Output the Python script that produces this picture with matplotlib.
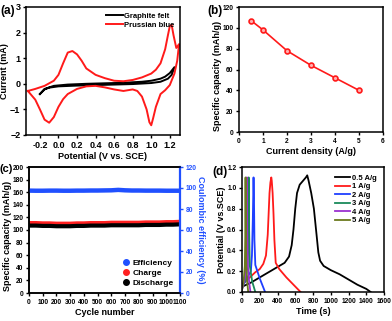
import matplotlib.pyplot as plt
from matplotlib.lines import Line2D

plt.rcParams['font.family'] = ['Liberation Sans', 'DejaVu Sans']
plt.rcParams['font.weight'] = 'bold'
plt.rcParams['axes.labelweight'] = 'bold'
plt.rcParams['axes.linewidth'] = 1.1
plt.rcParams['xtick.major.width'] = 1.0
plt.rcParams['ytick.major.width'] = 1.0
plt.rcParams['xtick.major.size'] = 2.5
plt.rcParams['ytick.major.size'] = 2.5

# (a) cyclic voltammetry, forward sweep then reverse sweep
pb_v = [-0.33, -0.25, -0.15, -0.05, 0.0, 0.05, 0.1, 0.15, 0.2, 0.25, 0.3, 0.4, 0.5, 0.6,
        0.7, 0.8, 0.9, 1.0, 1.05, 1.1, 1.15, 1.18, 1.2, 1.22, 1.24, 1.27, 1.3,
        1.28, 1.25, 1.2, 1.15, 1.1, 1.05, 1.02, 1.0, 0.98, 0.95, 0.9, 0.85, 0.8, 0.7,
        0.6, 0.5, 0.4, 0.3, 0.2, 0.1, 0.05, 0.0, -0.05, -0.1, -0.15, -0.2, -0.25, -0.33]
pb_i = [-0.28, -0.2, -0.08, 0.12, 0.35, 0.8, 1.22, 1.28, 1.15, 0.9, 0.6, 0.35, 0.22, 0.12,
        0.1, 0.15, 0.25, 0.4, 0.55, 0.8, 1.35, 1.9, 2.25, 2.3, 1.9, 1.4, 1.55,
        0.9, 0.4, -0.05, -0.25, -0.4, -0.9, -1.35, -1.62, -1.5, -1.0, -0.5, -0.28, -0.22, -0.28,
        -0.22, -0.14, -0.08, -0.1, -0.2, -0.4, -0.6, -0.9, -1.3, -1.52, -1.4, -1.0, -0.62, -0.28]
gf_v = [-0.2, -0.15, -0.05, 0.1, 0.3, 0.5, 0.7, 0.9, 1.0, 1.1, 1.15, 1.2, 1.25,
        1.22, 1.18, 1.1, 1.0, 0.8, 0.6, 0.4, 0.2, 0.0, -0.1, -0.15, -0.2]
gf_i = [-0.4, -0.2, -0.08, -0.03, 0.0, 0.02, 0.04, 0.08, 0.12, 0.2, 0.28, 0.42, 0.65,
        0.35, 0.2, 0.08, 0.03, -0.01, -0.03, -0.05, -0.07, -0.1, -0.15, -0.22, -0.4]

# (b) rate capability
density = [0.5, 1, 2, 3, 4, 5]
capacity = [107, 98, 78, 64, 52, 40]

# (c) cycling
cycles = [1, 50, 100, 150, 200, 250, 300, 350, 400, 450, 500, 550, 600, 650, 700,
          750, 800, 850, 900, 950, 1000, 1050, 1100]
charge = [111, 111, 110.5, 110.5, 110, 110, 110, 110.5, 110.5, 111, 111, 111, 111.5, 111.5, 111.5,
          111.5, 111.5, 112, 112, 112, 112.5, 112.5, 113]
discharge = [107, 107, 106.5, 106.5, 106, 106, 106, 106.5, 106.5, 107, 107, 107, 107.5, 107.5, 107.5,
             107.5, 107.5, 108, 108, 108, 108.5, 108.5, 109]
efficiency = [97.5, 97.4, 97.4, 97.5, 97.5, 97.4, 97.4, 97.5, 97.5, 97.6, 97.6, 97.7, 97.8, 98.2, 97.8,
              97.6, 97.6, 97.5, 97.5, 97.5, 97.4, 97.4, 97.4]

# (d) galvanostatic charge/discharge
gcd = {
    '0.5 A/g': ([0, 100, 200, 300, 400, 480, 530, 560, 580, 600, 620, 650, 690, 720, 735,
                 750, 780, 810, 840, 860, 880, 920, 1000, 1100, 1200, 1300, 1400, 1450],
                [0.05, 0.09, 0.14, 0.19, 0.24, 0.28, 0.34, 0.45, 0.6, 0.8, 0.95, 1.03, 1.07, 1.1, 1.12,
                 1.07, 0.95, 0.8, 0.55, 0.38, 0.3, 0.25, 0.21, 0.17, 0.12, 0.07, 0.03, 0.0]),
    '1 A/g': ([0, 50, 100, 150, 200, 240, 270, 290, 300, 310, 320, 330,
               335, 345, 355, 365, 380, 420, 500, 580, 660],
              [0.07, 0.11, 0.15, 0.19, 0.22, 0.27, 0.35, 0.55, 0.75, 0.95, 1.05, 1.1,
               1.07, 0.95, 0.75, 0.5, 0.28, 0.22, 0.14, 0.07, 0.0]),
    '2 A/g': ([0, 50, 100, 112, 122, 130, 135, 140, 150, 200, 260],
              [0.05, 0.12, 0.2, 0.35, 0.7, 1.1, 0.9, 0.5, 0.26, 0.13, 0.0]),
    '3 A/g': ([0, 40, 62, 70, 75, 80, 88, 115, 150],
              [0.03, 0.12, 0.25, 0.6, 1.1, 0.6, 0.25, 0.1, 0.0]),
    '4 A/g': ([0, 30, 45, 52, 55, 59, 66, 80, 95],
              [0.02, 0.12, 0.25, 0.6, 1.1, 0.6, 0.25, 0.1, 0.0]),
    '5 A/g': ([0, 20, 32, 38, 40, 43, 48, 58, 70],
              [0.02, 0.12, 0.25, 0.6, 1.1, 0.6, 0.25, 0.1, 0.0]),
}
gcd_colors = ['black', '#ff1a1a', '#1f3fff', '#1a8a5a', '#9a30d0', '#6b7a1e']

W, H = 392, 321
fig = plt.figure(figsize=(W / 100, H / 100), dpi=100)


def box(l, t, r, b):
    return fig.add_axes([l / W, 1 - b / H, (r - l) / W, (b - t) / H])


# ---- (a)
ax = box(26, 7, 180, 135)
ax.plot(gf_v, gf_i, color='black', lw=1.4, label='Graphite felt')
ax.plot(pb_v, pb_i, color='#ff1a1a', lw=1.4, label='Prussian blue')
ax.set_xlim(-0.35, 1.31)
ax.set_ylim(-2, 3)
ax.set_xticks([-0.2, 0.0, 0.2, 0.4, 0.6, 0.8, 1.0, 1.2])
ax.set_xticklabels(['-0.2', '0.0', '0.2', '0.4', '0.6', '0.8', '1.0', '1.2'])
ax.set_yticks([-2, -1, 0, 1, 2, 3])
ax.tick_params(labelsize=6.5, pad=1.5)
ax.set_xlabel('Potential (V vs. SCE)', fontsize=6.5, labelpad=2)
ax.set_ylabel('Current (mA)', fontsize=6.5, labelpad=1)
ax.legend(loc='upper right', frameon=False, fontsize=5.5, handlelength=2.2,
          borderaxespad=0.3, labelspacing=0.2, handletextpad=0.2)
fig.text(0 / W, 1 - 11 / H, '(a)', fontsize=8.5, fontweight='bold', va='center')

# ---- (b)
ax = box(239, 7, 383, 132)
ax.plot(density, capacity, color='#ff1a1a', lw=1.2, marker='o', ms=3.5,
        mfc='#ffb0b0', mec='#ff1a1a', mew=1.2)
ax.set_xlim(0, 6)
ax.set_ylim(0, 120)
ax.set_xticks(range(0, 7))
ax.set_yticks(range(0, 121, 20))
ax.tick_params(labelsize=4.8, pad=1.5)
ax.set_xlabel('Current density (A/g)', fontsize=6.5, labelpad=2)
ax.set_ylabel('Specific capacity (mAh/g)', fontsize=6.5, labelpad=1)
ax.yaxis.set_label_coords(-0.12, 0.45)
fig.text(207 / W, 1 - 11 / H, '(b)', fontsize=8.5, fontweight='bold', va='center')

# ---- (c)
ax = box(29, 167, 180, 293)
ax2 = ax.twinx()
ax.plot(cycles, charge, color='#ff2020', lw=3)
ax.plot(cycles, discharge, color='black', lw=3)
ax2.plot(cycles, efficiency, color='#2050ff', lw=3.2)
ax.set_xlim(0, 1100)
ax.set_ylim(0, 200)
ax2.set_ylim(0, 120)
ax.set_xticks(range(0, 1101, 100))
ax.set_yticks(range(0, 201, 20))
ax2.set_yticks(range(0, 121, 20))
ax.tick_params(labelsize=4.8, pad=1.5)
ax2.tick_params(labelsize=4.8, pad=1.5, colors='#2050ff')
ax2.spines['right'].set_color('#2050ff')
ax2.spines['right'].set_linewidth(1.6)
ax.set_xlabel('Cycle number', fontsize=6.5, labelpad=2)
ax.set_ylabel('Specific capacity (mAh/g)', fontsize=6.5, labelpad=1)
ax.yaxis.set_label_coords(-0.115, 0.45)
ax2.set_ylabel('Coulombic efficiency (%)', fontsize=6.5, color='#2050ff',
               rotation=-90, labelpad=6)
handles = [Line2D([], [], ls='none', marker='o', ms=4, color=c) for c in
           ['#2050ff', '#ff2020', 'black']]
ax.legend(handles, ['Efficiency', 'Charge', 'Discharge'], loc='lower right',
          frameon=False, fontsize=6, handlelength=1.2, borderaxespad=0.3,
          labelspacing=0.25, handletextpad=0.2)
fig.text(0 / W, 1 - 169 / H, '(c)', fontsize=8, fontweight='bold', va='center')

# ---- (d)
ax = box(242, 167, 384, 292)
for (name, (t, v)), c in zip(gcd.items(), gcd_colors):
    ax.plot(t, v, color=c, lw=1.3, label=name)
ax.set_xlim(0, 1600)
ax.set_ylim(0, 1.2)
ax.set_xticks(range(0, 1601, 200))
ax.set_yticks([0.0, 0.2, 0.4, 0.6, 0.8, 1.0, 1.2])
ax.set_yticklabels(['0.0', '0.2', '0.4', '0.6', '0.8', '1.0', '1.2'])
ax.tick_params(labelsize=4.8, pad=1.5)
ax.set_xlabel('Time (s)', fontsize=6.5, labelpad=2)
ax.set_ylabel('Potential (V vs.SCE)', fontsize=6.5, labelpad=1)
ax.legend(loc='upper right', frameon=False, fontsize=5.5, handlelength=2.0,
          borderaxespad=0.6, labelspacing=0.15, handletextpad=0.2)
fig.text(212 / W, 1 - 172 / H, '(d)', fontsize=8.5, fontweight='bold', va='center')

fig.savefig('out.png', dpi=100)
